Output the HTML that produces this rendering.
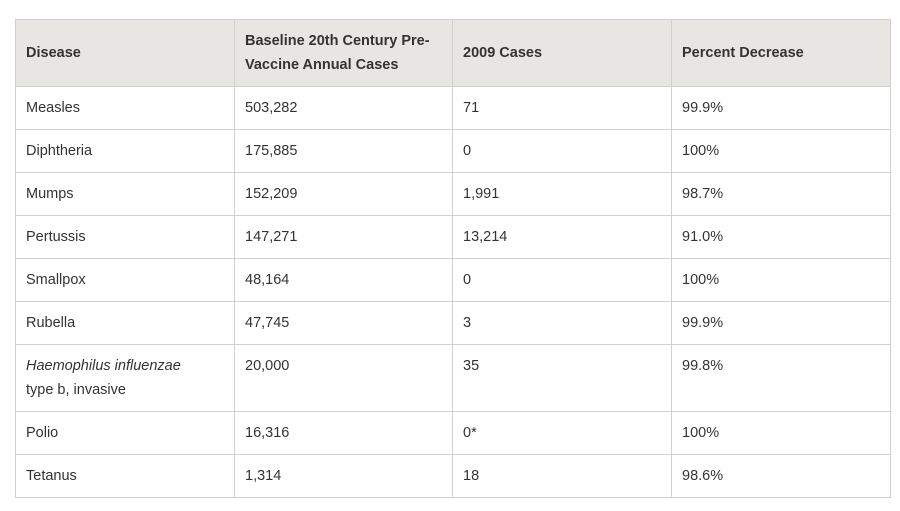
<!DOCTYPE html>
<html><head><meta charset="utf-8"><style>
body{margin:0;background:#fff;width:900px;height:511px;overflow:hidden;font-family:"Liberation Sans",Arial,sans-serif;color:#333;}
table{position:absolute;left:15px;top:19px;border-collapse:collapse;table-layout:fixed;font-size:14.5px;}
td,th{border:1px solid #d0d0d0;padding:0 10px;vertical-align:top;text-align:left;line-height:24px;}
th{background:#e8e6e3;font-weight:bold;vertical-align:middle;height:67px;color:#333;box-sizing:border-box;}
td{height:43px;padding-top:9px;box-sizing:border-box;}
tr.tall td{height:67px;}
</style></head><body>
<table>
<colgroup><col style="width:219px"><col style="width:218px"><col style="width:219px"><col style="width:219px"></colgroup>
<tr><th>Disease</th><th>Baseline 20th Century Pre-<br>Vaccine Annual Cases</th><th>2009 Cases</th><th>Percent Decrease</th></tr>
<tr><td>Measles</td><td>503,282</td><td>71</td><td>99.9%</td></tr>
<tr><td>Diphtheria</td><td>175,885</td><td>0</td><td>100%</td></tr>
<tr><td>Mumps</td><td>152,209</td><td>1,991</td><td>98.7%</td></tr>
<tr><td>Pertussis</td><td>147,271</td><td>13,214</td><td>91.0%</td></tr>
<tr><td>Smallpox</td><td>48,164</td><td>0</td><td>100%</td></tr>
<tr><td>Rubella</td><td>47,745</td><td>3</td><td>99.9%</td></tr>
<tr class="tall"><td><i>Haemophilus influenzae</i><br>type b, invasive</td><td>20,000</td><td>35</td><td>99.8%</td></tr>
<tr><td>Polio</td><td>16,316</td><td>0*</td><td>100%</td></tr>
<tr><td>Tetanus</td><td>1,314</td><td>18</td><td>98.6%</td></tr>
</table>
</body></html>
